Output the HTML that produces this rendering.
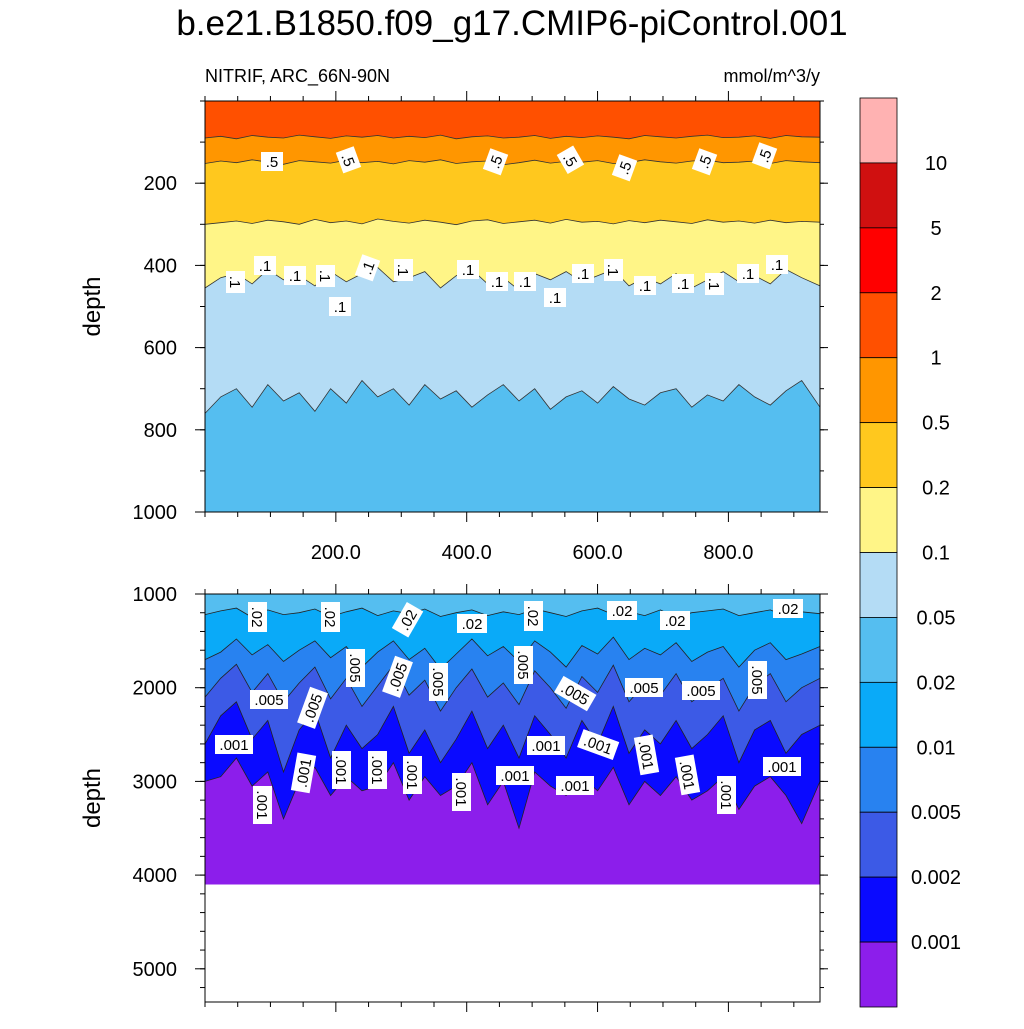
<!DOCTYPE html>
<html><head><meta charset="utf-8"><style>
body{margin:0;background:#fff;}
svg{font-family:"Liberation Sans",sans-serif;}
</style></head><body>
<svg id="chart" width="1024" height="1024" viewBox="0 0 1024 1024" xmlns="http://www.w3.org/2000/svg">
<text x="512" y="35" text-anchor="middle" font-size="35">b.e21.B1850.f09_g17.CMIP6-piControl.001</text>
<text x="205" y="82" font-size="18">NITRIF, ARC_66N-90N</text>
<text x="820" y="82" text-anchor="end" font-size="18">mmol/m^3/y</text>
<g id="top"></g><g id="bot"></g><g id="cbar"></g>
</svg>
<script>
const NS="http://www.w3.org/2000/svg";
const times=[0,24,48,72,96,120,144,168,192,216,240,264,288,312,336,360,384,408,432,456,480,504,528,552,576,600,624,648,672,696,720,744,768,792,816,840,864,888,912,940];
// top panel contour depths (m)
const lev1=[90,86,92,84,88,90,83,87,91,85,88,84,90,86,89,83,92,87,85,90,88,84,91,86,89,85,88,92,84,87,90,86,83,89,88,85,91,84,87,88];
const lev05=[152,146,150,143,149,154,145,148,151,144,150,147,153,145,149,143,152,148,146,155,150,144,151,147,149,145,152,150,143,148,151,146,144,150,149,146,152,145,148,150];
const lev02=[300,296,292,298,290,294,300,288,296,292,299,287,293,297,290,295,301,292,289,298,294,290,297,288,295,293,299,291,296,290,294,298,289,295,292,297,290,296,293,295];
const lev01=[455,430,420,445,410,435,425,450,415,440,420,405,440,430,415,455,425,410,445,430,460,420,435,415,440,425,410,450,430,445,420,455,435,415,440,425,445,410,430,450];
const lev005=[760,720,700,745,690,730,710,755,700,735,680,720,700,740,690,725,705,745,715,690,730,700,750,720,705,735,695,725,740,710,700,745,715,730,690,720,740,705,680,745];
// bottom panel contour depths (m)
const lev002=[1220,1180,1150,1250,1170,1220,1200,1160,1240,1190,1150,1230,1180,1210,1160,1240,1200,1170,1230,1190,1220,1160,1200,1240,1180,1150,1220,1190,1230,1170,1250,1200,1180,1160,1230,1200,1170,1240,1190,1210];
const lev001=[1700,1620,1480,1650,1540,1720,1600,1500,1680,1560,1780,1620,1500,1700,1580,1800,1640,1480,1660,1560,1720,1500,1620,1780,1550,1640,1460,1700,1580,1650,1520,1720,1620,1560,1780,1600,1520,1700,1640,1560];
const lev0005=[2100,1900,1750,2050,1850,2150,1950,1780,2120,1900,2200,1980,1760,2080,1920,2250,2000,1800,2100,1950,2180,1820,2000,2220,1880,2050,1760,2150,1960,2080,1850,2150,2020,1900,2250,1980,1850,2150,2000,1900];
const lev0002=[2600,2300,2150,2550,2350,2900,2450,2250,2750,2400,2650,2500,2200,2700,2450,2800,2550,2250,2650,2400,2750,2300,2500,2750,2350,2600,2200,2700,2450,2600,2350,2650,2500,2300,2800,2450,2350,2700,2500,2400];
const lev0001=[3000,2950,2750,3050,2900,3400,3000,2850,3150,2950,3100,3050,2800,3200,2950,3150,3050,2800,3250,3000,3500,2900,3050,3150,2950,3100,2850,3250,3000,3150,2950,3200,3100,2950,3300,3050,2950,3150,3450,3000];
const bottomDepth=4100;
const xTicks=[200,400,600,800];
const topYTicks=[200,400,600,800,1000];
const botYTicks=[1000,2000,3000,4000,5000];
const cbLabels=["10","5","2","1","0.5","0.2","0.1","0.05","0.02","0.01","0.005","0.002","0.001"];
const cbColors=["#FFB2B2","#D01010","#FF0000","#FF5000","#FF9600","#FFC81E","#FFF587","#B4DCF5","#55BEF0","#0AAAF8","#2882F0","#3C5AE6","#0A0AFF","#8C1EEB"];

const X0=205,X1=820,TMAX=940;
const xs=t=>X0+(t/TMAX)*(X1-X0);
const yTop=d=>101+d*0.411;
const yBot=d=>594+(d-1000)*0.0937;

function el(tag,attrs,parent,name,inter){
  const e=document.createElementNS(NS,tag);
  for(const k in attrs)e.setAttribute(k,attrs[k]);
  
  
  parent.appendChild(e);return e;
}
function bandPath(upper,lower,ys,uConst,lConst){
  let d="";
  times.forEach((t,i)=>{const v=upper?upper[i]:uConst;d+=(i?"L":"M")+xs(t).toFixed(1)+","+ys(v).toFixed(1);});
  for(let i=times.length-1;i>=0;i--){const v=lower?lower[i]:lConst;d+="L"+xs(times[i]).toFixed(1)+","+ys(v).toFixed(1);}
  return d+"Z";
}
function linePath(arr,ys){let d="";times.forEach((t,i)=>{d+=(i?"L":"M")+xs(t).toFixed(1)+","+ys(arr[i]).toFixed(1);});return d;}

const gTop=document.getElementById('top'),gBot=document.getElementById('bot');
const topBands=[[null,lev1,"#FF5000"],[lev1,lev05,"#FF9600"],[lev05,lev02,"#FFC81E"],[lev02,lev01,"#FFF587"],[lev01,lev005,"#B4DCF5"],[lev005,null,"#55BEF0"]];
topBands.forEach((b,i)=>{
  el('path',{d:bandPath(b[0],b[1],yTop,0,1000),fill:b[2]},gTop,'top-band-'+i,false);
});
[lev1,lev05,lev02,lev01,lev005].forEach((a,i)=>{
  el('path',{d:linePath(a,yTop),fill:"none",stroke:"#333","stroke-width":0.8},gTop,'top-contour-line-'+i,false);
});
const botBands=[[null,lev002,"#55BEF0"],[lev002,lev001,"#0AAAF8"],[lev001,lev0005,"#2882F0"],[lev0005,lev0002,"#3C5AE6"],[lev0002,lev0001,"#0A0AFF"],[lev0001,null,"#8C1EEB"]];
botBands.forEach((b,i)=>{
  el('path',{d:bandPath(b[0],b[1],yBot,1000,bottomDepth),fill:b[2]},gBot,'bottom-band-'+i,false);
});
[lev002,lev001,lev0005,lev0002,lev0001].forEach((a,i)=>{
  el('path',{d:linePath(a,yBot),fill:"none",stroke:"#222","stroke-width":0.8},gBot,'bottom-contour-line-'+i,false);
});
function lab(g,x,y,txt,rot,name){
  const gg=el('g',{transform:`translate(${x},${y}) rotate(${rot})`},g,name,false);
  const w=txt.length*8+6;
  el('rect',{x:-w/2,y:-10,width:w,height:19,fill:"#fff"},gg,name+'-box',false);
  const t=el('text',{x:0,y:5,"text-anchor":"middle","font-size":15},gg,name+'-text',false);t.textContent=txt;
}
[[272,162,0],[348,160,70],[496,162,-70],[570,160,60],[625,168,-70],[705,162,-70],[765,156,-70]].forEach((p,i)=>lab(gTop,p[0],p[1],".5",p[2],'label-05-'+i));
[[235,282,90],[265,266,0],[295,276,0],[325,276,90],[368,268,-70],[403,270,90],[468,270,0],[497,282,0],[525,282,0],[340,307,0],[555,298,0],[583,274,0],[613,270,90],[645,286,0],[683,284,0],[714,284,90],[748,274,0],[777,265,0]].forEach((p,i)=>lab(gTop,p[0],p[1],".1",p[2],'label-01-'+i));
[[257,617,90],[330,617,90],[408,620,-60],[472,624,0],[533,616,90],[622,611,0],[675,621,0],[788,609,0]].forEach((p,i)=>lab(gBot,p[0],p[1],".02",p[2],'label-002-'+i));
[[355,668,90],[398,677,-70],[438,682,90],[523,665,90],[575,694,30],[644,688,0],[701,691,0],[757,680,90],[269,700,0],[313,708,-70]].forEach((p,i)=>lab(gBot,p[0],p[1],".005",p[2],'label-0005-'+i));
[[234,745,0],[262,805,90],[304,773,-80],[341,770,90],[377,770,90],[412,775,90],[461,792,90],[515,776,0],[546,746,0],[575,786,0],[598,745,20],[646,755,80],[687,775,80],[726,795,90],[782,767,0]].forEach((p,i)=>lab(gBot,p[0],p[1],".001",p[2],'label-0001-'+i));

function axes(g,y0,y1,ticks,ys,label,pref,showX,minorFrom,minorTo,minorStep){
  el('rect',{x:X0,y:y0,width:X1-X0,height:y1-y0,fill:"none",stroke:"#000","stroke-width":1},g,pref+'-frame',false);
  ticks.forEach(v=>{const y=ys(v);
    el('line',{x1:X0-10,x2:X0,y1:y,y2:y,stroke:"#000"},g,pref+'-y-tick',false);
    el('line',{x1:X1,x2:X1+8,y1:y,y2:y,stroke:"#000"},g,pref+'-y-tick-right',false);
    const t=el('text',{x:X0-28,y:y+7,"text-anchor":"end","font-size":20},g,pref+'-y-tick-label',false);t.textContent=v;});
  for(let v=minorFrom;v<=minorTo;v+=minorStep){const y=ys(v);if(y<y0-1||y>y1+1)continue;
    el('line',{x1:X0-5,x2:X0,y1:y,y2:y,stroke:"#000"},g,pref+'-y-minor-tick',false);
    el('line',{x1:X1,x2:X1+4,y1:y,y2:y,stroke:"#000"},g,pref+'-y-minor-tick-right',false);}
  for(let t=0;t<=TMAX;t+=50){const x=xs(t);const maj=t%200===0&&t>0;const L=maj?10:5;
    el('line',{x1:x,x2:x,y1:y0-L,y2:y0,stroke:"#000"},g,pref+'-x-tick-top',false);
    el('line',{x1:x,x2:x,y1:y1,y2:y1+L,stroke:"#000"},g,pref+'-x-tick',false);}
  if(showX)xTicks.forEach(v=>{const t=el('text',{x:xs(v),y:y1+47,"text-anchor":"middle","font-size":20},g,'x-tick-label',false);t.textContent=v.toFixed(1);});
  const yl=(y0+y1)/2;
  const t=el('text',{x:100,y:yl,"text-anchor":"middle","font-size":24,transform:`rotate(-90 100 ${yl})`},g,pref+'-y-axis-title',false);t.textContent=label;
}
axes(gTop,101,512,topYTicks,yTop,"depth","top",true,0,1000,100);
axes(gBot,594,1002,botYTicks,yBot,"depth","bottom",false,1000,5400,200);

const cb=document.getElementById('cbar');const CY0=98,CY1=1007,bh=(CY1-CY0)/cbColors.length;
cbColors.forEach((c,i)=>{el('rect',{x:860,y:CY0+i*bh,width:37,height:bh,fill:c,stroke:"#000","stroke-width":0.8},cb,'colorbar-box-'+i,false);});
cbLabels.forEach((l,i)=>{const t=el('text',{x:936,y:CY0+(i+1)*bh+7,"text-anchor":"middle","font-size":20},cb,'colorbar-label',false);t.textContent=l;});
</script>
</body></html>
